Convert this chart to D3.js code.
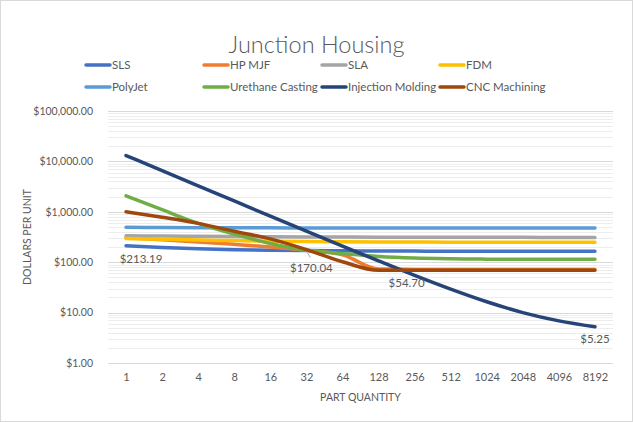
<!DOCTYPE html>
<html>
<head>
<meta charset="utf-8">
<script src="https://cdn.jsdelivr.net/npm/d3@7"></script>
<style>
	body { margin: 0; background: #fff; }
	svg { display: block; font-family: Lato, "Open Sans", sans-serif; }
</style>
</head>
<body>
<div id="chart"></div>
<script>

// part quantities (categories on the x axis)
var quantities = ["1","2","4","8","16","32","64","128","256","512","1024","2048","4096","8192"];

// dollars per unit, one array per process
var sls        = [213.19, 196, 184, 177, 173, 170.04, 168, 167, 166, 165, 165, 164, 164, 164];
var hpMjf      = [305, 278, 252, 226, 200, 172, 140, 73, 72, 72, 72, 72, 72, 72];
var sla        = [335, 330, 326, 322, 320, 318, 316, 314, 313, 312, 311, 311, 310, 310];
var fdm        = [295, 285, 276, 268, 262, 257, 254, 252, 251, 250, 250, 250, 250, 250];
var polyJet    = [495, 488, 484, 482, 480, 479, 479, 478, 478, 478, 478, 478, 478, 478];
var urethane   = [2070, 1100, 590, 360, 235, 172, 148, 130, 121, 117, 115, 114, 114, 114];
var injection  = [13070, 6540, 3270, 1640, 820, 412, 208, 106, 54.70, 29.2, 16.4, 10.0, 6.85, 5.25];
var cnc        = [1000, 780, 590, 410, 290, 178, 102, 69, 69, 69, 69, 69, 69, 69];

var seriesNames  = ["SLS","HP MJF","SLA","FDM","PolyJet","Urethane Casting","Injection Molding","CNC Machining"];
var seriesValues = [sls, hpMjf, sla, fdm, polyJet, urethane, injection, cnc];
var seriesColors = ["#4472C4","#ED7D31","#A5A5A5","#FFC000","#5B9BD5","#70AD47","#264478","#9E480E"];

// y axis tick values (decades)
var yTicks = [1, 10, 100, 1000, 10000, 100000];

// data labels: series index, category index
var dataLabels = [
	{ s: 0, i: 0 },
	{ s: 0, i: 5 },
	{ s: 6, i: 8 },
	{ s: 6, i: 13 }
];

var W = 633, H = 422;
var plot = { left: 108, right: 613, top: 111, bottom: 363 };
var textColor = "#595959";

var svg = d3.select("#chart").append("svg")
	.attr("width", W)
	.attr("height", H);

svg.append("rect")
	.attr("x", 0.5).attr("y", 0.5)
	.attr("width", W - 1).attr("height", H - 1)
	.attr("fill", "#fff")
	.attr("stroke", "#D9D9D9");

var x = d3.scalePoint()
	.domain(quantities)
	.range([plot.left, plot.right])
	.padding(0.5);

var y = d3.scaleLog()
	.domain([yTicks[0], yTicks[yTicks.length - 1]])
	.range([plot.bottom, plot.top]);

// gridlines, minor first then major
var allTicks = y.ticks();
var minor = allTicks.filter(function(t) { return yTicks.indexOf(t) < 0; });

svg.append("g").selectAll("line")
	.data(minor)
	.enter().append("line")
	.attr("x1", plot.left).attr("x2", plot.right)
	.attr("y1", function(d) { return Math.round(y(d)) + 0.5; })
	.attr("y2", function(d) { return Math.round(y(d)) + 0.5; })
	.attr("stroke", "#EDEDED")
	.attr("stroke-width", 1);

svg.append("g").selectAll("line")
	.data(yTicks)
	.enter().append("line")
	.attr("x1", plot.left).attr("x2", plot.right)
	.attr("y1", function(d) { return Math.round(y(d)) + 0.5; })
	.attr("y2", function(d) { return Math.round(y(d)) + 0.5; })
	.attr("stroke", "#D9D9D9")
	.attr("stroke-width", 1);

// y axis labels
var money = d3.format(",.2f");
var yAxis = d3.axisLeft(y)
	.tickValues(yTicks)
	.tickFormat(function(d) { return "$" + money(d); })
	.tickSize(0)
	.tickPadding(15);

var yG = svg.append("g")
	.attr("transform", "translate(" + plot.left + ",0)")
	.call(yAxis);
yG.select(".domain").remove();
yG.selectAll("text")
	.attr("fill", textColor)
	.style("font-size", "10.5px")
	.style("font-family", "Lato, sans-serif");

// x axis labels
var xAxis = d3.axisBottom(x).tickSize(0).tickPadding(10);
var xG = svg.append("g")
	.attr("transform", "translate(0," + plot.bottom + ")")
	.call(xAxis);
xG.select(".domain").remove();
xG.selectAll("text")
	.attr("fill", textColor)
	.style("font-size", "11px")
	.style("font-family", "Lato, sans-serif");

// axis titles
svg.append("text")
	.attr("x", (plot.left + plot.right) / 2)
	.attr("y", 401)
	.attr("text-anchor", "middle")
	.attr("fill", textColor)
	.style("font-size", "10.5px")
	.text("PART QUANTITY");

svg.append("text")
	.attr("transform", "translate(31," + (plot.top + plot.bottom) / 2 + ") rotate(-90)")
	.attr("text-anchor", "middle")
	.attr("fill", textColor)
	.style("font-size", "10.5px")
	.text("DOLLARS PER UNIT");

// title
svg.append("text")
	.attr("x", W / 2)
	.attr("y", 53)
	.attr("text-anchor", "middle")
	.attr("fill", textColor)
	.style("font-size", "23.5px")
	.style("font-weight", 300)
	.text("Junction Housing");

// legend
var legendCols = [84, 202, 320, 438];
var legendRows = [65, 87];
var legend = svg.append("g").selectAll("g")
	.data(seriesNames)
	.enter().append("g")
	.attr("transform", function(d, i) {
		return "translate(" + legendCols[i % 4] + "," + legendRows[Math.floor(i / 4)] + ")";
	});

legend.append("line")
	.attr("x1", 2).attr("x2", 26)
	.attr("y1", 0).attr("y2", 0)
	.attr("stroke", function(d, i) { return seriesColors[i]; })
	.attr("stroke-width", 3.5)
	.attr("stroke-linecap", "round");

legend.append("text")
	.attr("x", 28)
	.attr("y", 4)
	.attr("fill", textColor)
	.style("font-size", "11.5px")
	.text(function(d) { return d; });

// series lines
var line = d3.line()
	.x(function(d, i) { return x(quantities[i]); })
	.y(function(d) { return y(d); })
	.curve(d3.curveMonotoneX);

svg.append("g").selectAll("path")
	.data(seriesValues)
	.enter().append("path")
	.attr("d", line)
	.attr("fill", "none")
	.attr("stroke", function(d, i) { return seriesColors[i]; })
	.attr("stroke-width", 3.5)
	.attr("stroke-linecap", "round")
	.attr("stroke-linejoin", "round");

// data labels (offsets tuned by eye)
var labelOffsets = [[15, 17], [5, 21], [-8, 12], [0, 16]];

// leader line for the $170.04 label
var lp = dataLabels[1];
svg.append("line")
	.attr("x1", x(quantities[lp.i]) + 1).attr("y1", y(seriesValues[lp.s][lp.i]) + 2)
	.attr("x2", x(quantities[lp.i]) + 4).attr("y2", y(seriesValues[lp.s][lp.i]) + 7)
	.attr("stroke", "#A6A6A6")
	.attr("stroke-width", 1);

svg.append("g").selectAll("text")
	.data(dataLabels)
	.enter().append("text")
	.attr("x", function(d, k) { return x(quantities[d.i]) + labelOffsets[k][0]; })
	.attr("y", function(d, k) { return y(seriesValues[d.s][d.i]) + labelOffsets[k][1]; })
	.attr("text-anchor", "middle")
	.attr("fill", textColor)
	.style("font-size", "11.5px")
	.text(function(d) { return "$" + money(seriesValues[d.s][d.i]); });

</script>
</body>
</html>
